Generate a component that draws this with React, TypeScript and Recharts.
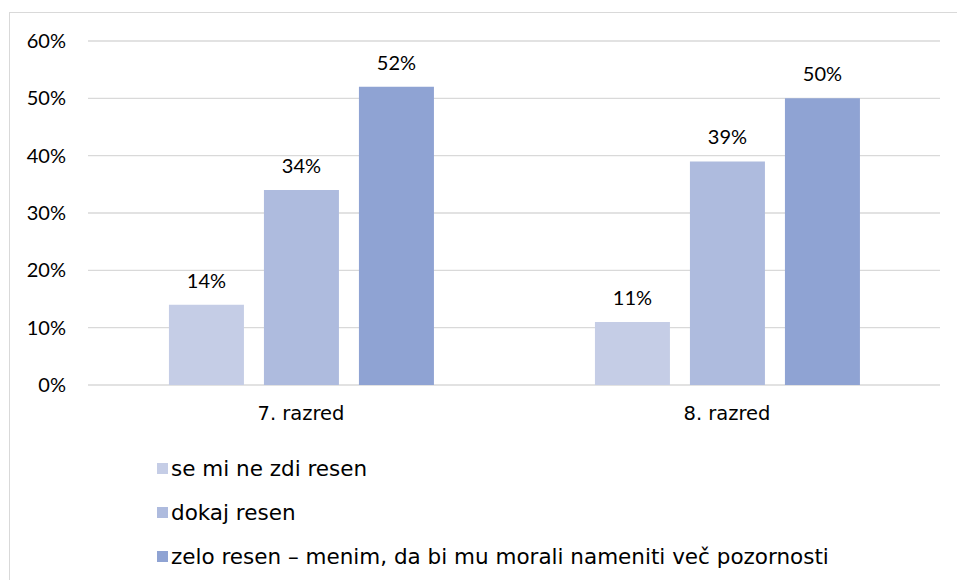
import React from 'react';
import { BarChart, Bar, XAxis, YAxis, CartesianGrid, LabelList, Legend } from 'recharts';

const categories = ['7. razred', '8. razred'];
const seriesNames = [
  'se mi ne zdi resen',
  'dokaj resen',
  'zelo resen – menim, da bi mu morali nameniti več pozornosti',
];
const seriesNe = [14, 11];
const seriesDokaj = [34, 39];
const seriesZelo = [52, 50];
const yTicks = [0, 10, 20, 30, 40, 50, 60];
const colors = ['#C5CDE6', '#AEBBDE', '#8FA3D3'];
const seriesKeys = ['a', 'b', 'c'];

const data = categories.map((c, i) => ({
  name: c,
  a: seriesNe[i],
  b: seriesDokaj[i],
  c: seriesZelo[i],
}));

const renderLegend = () => {
  return (
    <div style={{ fontFamily: 'DejaVu Sans', fontSize: 21.5, color: '#000' }}>
      {seriesNames.map((name, i) => (
        <div key={i} style={{ display: 'flex', alignItems: 'center', height: 44 }}>
          <span
            style={{
              display: 'inline-block',
              width: 11,
              height: 11,
              background: colors[i],
              marginRight: 3,
            }}
          />
          <span>{name}</span>
        </div>
      ))}
    </div>
  );
};

export default function App() {
  return (
    <div style={{ position: 'absolute', left: 0, top: 0, width: 957, height: 580, overflow: 'hidden', background: '#fff' }}>
      <div
        style={{
          position: 'absolute',
          left: 9,
          top: 12,
          width: 1000,
          height: 1000,
          border: '1px solid #D9D9D9',
        }}
      />
      <BarChart
        width={957}
        height={580}
        data={data}
        margin={{ top: 41, right: 17, left: 20, bottom: 155 }}
        barCategoryGap="19%"
        barGap={20}
      >
        <CartesianGrid vertical={false} stroke="#D9D9D9" strokeWidth={1.3} />
        <XAxis
          dataKey="name"
          height={40}
          axisLine={false}
          tickLine={false}
          tickMargin={15}
          tick={{ fontFamily: 'DejaVu Sans', fontSize: 19.5, fill: '#000' }}
        />
        <YAxis
          width={68}
          domain={[0, 60]}
          ticks={yTicks}
          axisLine={false}
          tickLine={false}
          tickMargin={16}
          tickFormatter={(v: number) => `${v}%`}
          tick={{ fontFamily: 'Lato', fontSize: 20, fill: '#000' }}
        />
        <Legend
          layout="vertical"
          align="center"
          verticalAlign="middle"
          content={renderLegend}
          wrapperStyle={{ position: 'absolute', left: 157, top: 446, width: 780 }}
        />
        {seriesKeys.map((k, i) => (
          <Bar key={k} dataKey={k} name={seriesNames[i]} fill={colors[i]} isAnimationActive={false}>
            <LabelList
              dataKey={k}
              position="top"
              offset={17}
              formatter={(v: any) => `${v}%`}
              style={{ fontFamily: 'Lato', fontSize: 20, fill: '#000' }}
            />
          </Bar>
        ))}
      </BarChart>
    </div>
  );
}
